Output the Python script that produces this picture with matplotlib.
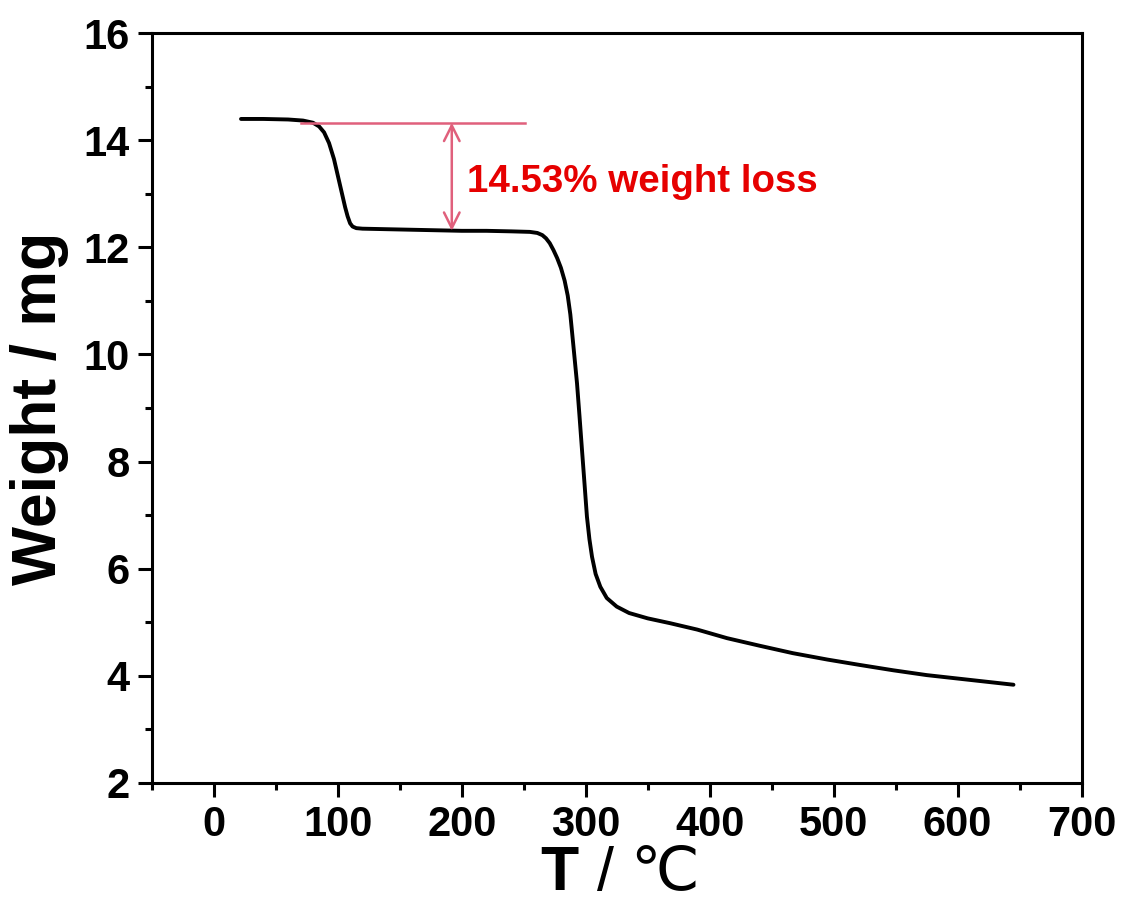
import matplotlib
matplotlib.use('Agg')
import matplotlib.pyplot as plt
from matplotlib.ticker import MultipleLocator

# TGA curve
temp = [22, 40, 60, 72, 80, 85, 89, 93, 97, 100, 103, 106, 108, 110, 112, 115, 120,
        140, 160, 180, 200, 220, 240, 255, 261, 265, 268, 271, 274, 277, 280, 283,
        285.5, 287.6, 290, 293, 295, 297, 299, 301, 303, 305.1, 308, 311.8, 317,
        325, 335, 350, 368, 390, 414, 440, 467, 495, 521, 548, 575, 610, 645]
weight = [14.40, 14.40, 14.39, 14.37, 14.33, 14.26, 14.15, 13.95, 13.65, 13.35, 13.05,
          12.75, 12.58, 12.45, 12.39, 12.36, 12.35,
          12.34, 12.33, 12.32, 12.31, 12.31, 12.30, 12.29, 12.27, 12.23, 12.17, 12.08,
          11.95, 11.80, 11.62, 11.38, 11.10, 10.75, 10.18, 9.46, 8.85, 8.22, 7.60,
          6.97, 6.55, 6.22, 5.90, 5.66, 5.45, 5.29, 5.17, 5.07, 4.98, 4.86, 4.70,
          4.56, 4.42, 4.30, 4.20, 4.10, 4.01, 3.92, 3.83]

# annotation values
ref_level = 14.33
step_level = 12.31
ref_line_x = [70, 251]
arrow_x = 192
loss_text = '14.53% weight loss'

plt.rcParams['font.family'] = ['Liberation Sans', 'DejaVu Sans']
plt.rcParams['font.weight'] = 'bold'

fig = plt.figure(figsize=(11.23, 9.10), dpi=100)
ax = fig.add_axes([0.1351, 0.1399, 0.8281, 0.8235])

ax.plot(temp, weight, color='black', lw=2.8, solid_capstyle='round',
        solid_joinstyle='round')

# reference line and double arrow
ax.plot(ref_line_x, [ref_level, ref_level], color='#e0607c', lw=1.8)
ax.annotate('', xy=(arrow_x, step_level), xytext=(arrow_x, ref_level),
            arrowprops=dict(arrowstyle='<->', color='#e0607c', lw=1.8,
                            mutation_scale=28, shrinkA=0, shrinkB=0))
ax.text(204.4, 13.04, loss_text, color='#e60000', fontsize=27.7,
        fontweight='bold', ha='left', va='baseline')

ax.set_xlim(-50, 700)
ax.set_ylim(2, 16)
ax.xaxis.set_major_locator(MultipleLocator(100))
ax.xaxis.set_minor_locator(MultipleLocator(50))
ax.yaxis.set_major_locator(MultipleLocator(2))
ax.yaxis.set_minor_locator(MultipleLocator(1))
ax.set_xticks(range(0, 701, 100))

for s in ax.spines.values():
    s.set_linewidth(2.2)
ax.tick_params(which='major', direction='out', length=10, width=2.2,
               labelsize=30, pad=6)
ax.tick_params(which='minor', direction='out', length=5, width=2.2)
ax.tick_params(which='both', top=False, right=False)
for lab in ax.get_xticklabels() + ax.get_yticklabels():
    lab.set_fontweight('bold')

ax.set_ylabel('Weight / mg', fontsize=45, fontweight='bold', labelpad=10)

# x label: bold T, regular rest
fig.text(0.5147, 0.022, 'T', fontsize=45, fontweight='bold', ha='right', va='baseline')
fig.text(0.5165, 0.022, ' / \u2103', fontsize=44, fontweight='normal',
         ha='left', va='baseline')

fig.savefig('out.png', dpi=100)
